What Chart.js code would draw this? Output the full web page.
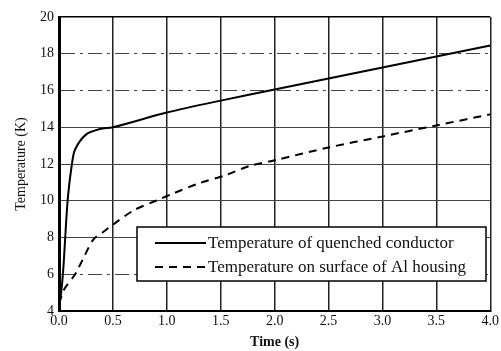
<!DOCTYPE html>
<html>
<head>
<meta charset="utf-8">
<script src="https://cdn.jsdelivr.net/npm/chart.js@4"></script>
<style>
  html, body { margin: 0; padding: 0; background: #fff; }
  #wrap { width: 501px; height: 351px; }
</style>
</head>
<body>
<div id="wrap"><canvas id="grafico"></canvas></div>
<script>
// dados
var tempoCondutor = [0.0, 0.02, 0.04, 0.08, 0.12, 0.15, 0.25, 0.38, 0.5, 1.0, 1.5, 2.0, 2.5, 3.0, 3.5, 4.0];
var tempCondutor  = [4.2, 5.0, 6.3, 10.0, 12.0, 12.8, 13.6, 13.9, 14.0, 14.8, 15.45, 16.05, 16.65, 17.25, 17.85, 18.45];
var tempoCarcaca  = [0.0, 0.05, 0.15, 0.22, 0.32, 0.41, 0.5, 0.7, 0.9, 1.06, 1.3, 1.55, 1.77, 2.0, 2.5, 3.0, 3.5, 4.0];
var tempCarcaca   = [4.4, 5.2, 6.0, 6.8, 7.9, 8.3, 8.7, 9.5, 10.0, 10.4, 10.95, 11.4, 11.9, 12.2, 12.9, 13.5, 14.1, 14.7];
var rotulos = ['Temperature of quenched conductor', 'Temperature on surface of Al housing'];
var ticksX = [0, 0.5, 1, 1.5, 2, 2.5, 3, 3.5, 4];
var ticksY = [4, 6, 8, 10, 12, 14, 16, 18, 20];

function pontos(xs, ys) {
    var p = [];
    for (var i = 0; i < xs.length; i++) p.push({x: xs[i], y: ys[i]});
    return p;
}

var serif = '"Liberation Serif", "DejaVu Serif", serif';

// legenda desenhada dentro da area do grafico
var legendaInterna = {
    id: 'legendaInterna',
    afterDraw: function(chart) {
        var ctx = chart.ctx;
        var x0 = 137, y0 = 227, w = 349, h = 54;
        ctx.save();
        ctx.fillStyle = '#fff';
        ctx.fillRect(x0, y0, w, h);
        ctx.strokeStyle = '#000';
        ctx.lineWidth = 1.5;
        ctx.strokeRect(x0, y0, w, h);
        ctx.font = '17px ' + serif;
        ctx.textBaseline = 'middle';
        ctx.fillStyle = '#111';
        chart.data.datasets.forEach(function(ds, i) {
            var y = y0 + 16 + i * 24;
            ctx.beginPath();
            ctx.setLineDash(ds.borderDash || []);
            ctx.lineWidth = 2;
            ctx.moveTo(155, y);
            ctx.lineTo(206, y);
            ctx.stroke();
            ctx.setLineDash([]);
            ctx.fillText(ds.label, 208, y + 1);
        });
        ctx.restore();
    }
};

var data1 = {
    datasets: [{
        label: rotulos[0],
        data: pontos(tempoCondutor, tempCondutor),
        borderColor: '#000',
        borderWidth: 2,
        pointRadius: 0,
        tension: 0.3,
        fill: false
    }, {
        label: rotulos[1],
        data: pontos(tempoCarcaca, tempCarcaca),
        borderColor: '#000',
        borderWidth: 2,
        borderDash: [8, 6],
        pointRadius: 0,
        tension: 0.3,
        fill: false
    }]
};

var options1 = {
    responsive: true,
    maintainAspectRatio: false,
    animation: false,
    layout: { padding: { left: 0, top: 17, right: 9, bottom: 0 } },
    plugins: { legend: { display: false }, tooltip: { enabled: false } },
    scales: {
        x: {
            type: 'linear',
            min: 0, max: 4,
            afterBuildTicks: function(s) { s.ticks = ticksX.map(function(v) { return {value: v}; }); },
            afterFit: function(s) { s.height = 40; },
            ticks: {
                font: { family: serif, size: 14 },
                color: '#111',
                padding: 2,
                callback: function(v) { return v.toFixed(1); }
            },
            grid: { color: '#222', lineWidth: 1.5, drawTicks: false },
            border: { color: '#000', width: 2 },
            title: {
                display: true,
                text: 'Time (s)',
                font: { family: serif, size: 14, weight: 'bold' },
                color: '#111',
                padding: { top: 2, bottom: 0 }
            }
        },
        y: {
            min: 4, max: 20,
            afterBuildTicks: function(s) { s.ticks = ticksY.map(function(v) { return {value: v}; }); },
            afterFit: function(s) { s.width = 59; },
            ticks: {
                font: { family: serif, size: 14 },
                color: '#111',
                padding: 5
            },
            grid: {
                drawTicks: false,
                color: function(c) {
                    var v = c.tick ? c.tick.value : 0;
                    return (v === 4 || v === 20) ? '#000' : '#444';
                },
                lineWidth: function(c) {
                    var v = c.tick ? c.tick.value : 0;
                    return (v === 20) ? 1.5 : 1;
                }
            },
            border: {
                color: '#000', width: 3,
                dash: function(c) {
                    var v = c.tick ? c.tick.value : 0;
                    return (v === 6 || v === 16 || v === 18) ? [14, 5, 3, 5] : [];
                }
            },
            title: {
                display: true,
                text: 'Temperature (K)',
                font: { family: serif, size: 14 },
                color: '#111',
                padding: { top: 13, bottom: 0 }
            }
        }
    }
};

function criarGrafico(idDaDiv, data, options) {
    var ctx = document.getElementById(idDaDiv).getContext('2d');
    return new Chart(ctx, {
        type: 'line',
        data: data,
        options: options,
        plugins: [legendaInterna]
    });
}

criarGrafico('grafico', data1, options1);
</script>
</body>
</html>
